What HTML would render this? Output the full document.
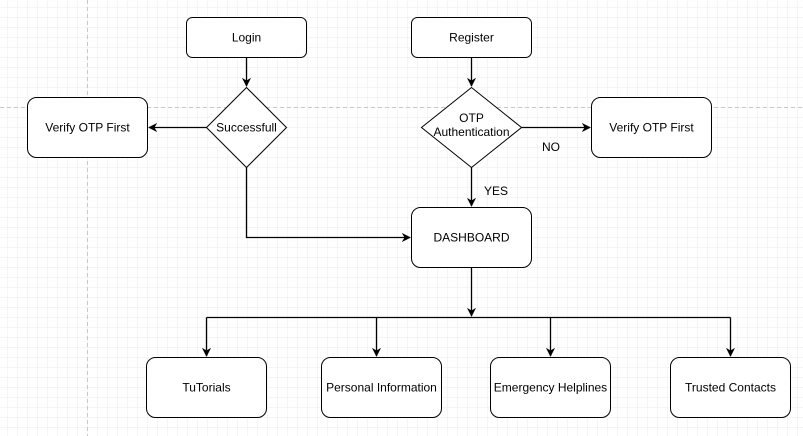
<!DOCTYPE html>
<html><head><meta charset="utf-8"><style>
html,body{margin:0;padding:0;background:#fff;}
svg{display:block;font-family:"Liberation Sans",Arial,sans-serif;}
</style></head><body>
<svg width="803" height="436" viewBox="0 0 803 436" xmlns="http://www.w3.org/2000/svg">
<defs>
<pattern id="g" x="7" y="7" width="10" height="10" patternUnits="userSpaceOnUse">
<path d="M0 0H10M0 0V10" stroke="#ebebeb" stroke-width="1" fill="none"/>
</pattern>
<marker id="a" viewBox="0 0 10 10" refX="9" refY="5" markerWidth="7" markerHeight="7" orient="auto">
<path d="M0 0L10 5L0 10L3 5Z" fill="#000"/>
</marker>
</defs>
<rect width="803" height="436" fill="url(#g)" transform="translate(0.5,0.5)"/>
<line x1="87.5" y1="0" x2="87.5" y2="436" stroke="#c8c8c8" stroke-dasharray="4,3"/>
<line x1="0" y1="107.5" x2="803" y2="107.5" stroke="#c8c8c8" stroke-dasharray="4,3"/>
<g fill="#fff" stroke="#000" stroke-width="1">
<rect x="186.5" y="17.5" width="120" height="40" rx="6"/>
<rect x="411.5" y="17.5" width="120" height="40" rx="6"/>
<rect x="27.5" y="97.5" width="120" height="60" rx="9"/>
<rect x="591.5" y="97.5" width="120" height="60" rx="9"/>
<rect x="411.5" y="207.5" width="120" height="60" rx="9"/>
<rect x="146.5" y="357.5" width="120" height="60" rx="9"/>
<rect x="321.5" y="357.5" width="120" height="60" rx="9"/>
<rect x="490.5" y="357.5" width="120" height="60" rx="9"/>
<rect x="670.5" y="357.5" width="120" height="60" rx="9"/>
<path d="M246.5 87.5L286.5 127.5L246.5 167.5L206.5 127.5Z"/>
<path d="M471.5 87.5L521.5 127.5L471.5 167.5L421.5 127.5Z"/>
</g>
<g stroke="#000" stroke-width="1.3" fill="none" marker-end="url(#a)">
<path d="M246.5 57.5V86"/>
<path d="M471.5 57.5V86"/>
<path d="M206.5 127.5H149"/>
<path d="M521.5 127.5H590"/>
<path d="M471.5 167.5V206"/>
<path d="M246.5 167.5V237.5H410"/>
<path d="M471.5 267.5V316"/>
<path d="M206.5 317.5V356"/>
<path d="M376.5 317.5V356"/>
<path d="M550.5 317.5V356"/>
<path d="M730.5 317.5V356"/>
</g>
<path d="M206.5 317.5H730.5" stroke="#000" stroke-width="1.3"/>
<g font-size="12" text-anchor="middle" fill="#000">
<text x="246.5" y="41.5">Login</text>
<text x="471.5" y="41.5">Register</text>
<text x="87.5" y="131.5">Verify OTP First</text>
<text x="651.5" y="131.5">Verify OTP First</text>
<text x="246.5" y="131.5">Successfull</text>
<text x="471.5" y="122">OTP</text>
<text x="471.5" y="136">Authentication</text>
<text x="551" y="151">NO</text>
<text x="496" y="195">YES</text>
<text x="471.5" y="241.5">DASHBOARD</text>
<text x="206.5" y="391.5">TuTorials</text>
<text x="381.5" y="391.5">Personal Information</text>
<text x="550.5" y="391.5">Emergency Helplines</text>
<text x="730.5" y="391.5">Trusted Contacts</text>
</g>
</svg>
</body></html>
